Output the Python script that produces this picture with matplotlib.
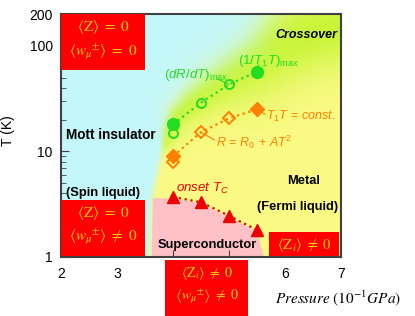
import numpy as np
import matplotlib
matplotlib.use('Agg')
import matplotlib.pyplot as plt
from matplotlib.path import Path
from matplotlib.patches import Rectangle, Polygon
from matplotlib.ticker import FixedLocator, LogLocator, NullFormatter

plt.rcParams['font.family'] = ['Liberation Sans', 'DejaVu Sans']
plt.rcParams['mathtext.fontset'] = 'custom'
plt.rcParams['mathtext.rm'] = 'Liberation Sans'
plt.rcParams['mathtext.it'] = 'Liberation Sans:italic'
plt.rcParams['mathtext.bf'] = 'Liberation Sans:bold'

# data (pressure in 10^-1 GPa, T in K)
drdt_p = [4.0, 4.5, 5.0]
drdt_T = [15, 29, 43]
t1tmax_p = [4.0, 5.5]
t1tmax_T = [18, 57]
rfit_p = [4.0, 4.5, 5.0]
rfit_T = [7.9, 15.2, 20.6]
t1tconst_p = [4.0, 5.5]
t1tconst_T = [9.0, 25]
tc_p = [4.0, 4.5, 5.0, 5.5]
tc_T = [3.7, 3.3, 2.46, 1.8]

xticks = [2, 3, 4, 5, 6, 7]
xticklabels = ['2', '3', '', '', '6', '7']  # 4 and 5 sit under the red box
yticks = [1, 10, 100, 200]

green = '#22dd22'
orange = '#ff8000'
red = '#ee0000'
boxred = '#ff0000'
boxtxt = '#ffd200'

W, H = 415, 316
fig = plt.figure(figsize=(W / 100, H / 100), dpi=100)
pos = [61 / W, 1 - 257 / H, 280 / W, 243 / H]

# ---- background phase colouring ----
umax = np.log10(200)
xs = np.linspace(2, 7, 500)
us = np.linspace(0, umax, 430)
X, U = np.meshgrid(xs, us)
sx, su = 56.0, 105.0
PX, PY = X * sx, U * su


def seg_dist(pts):
    pts = np.asarray(pts) * [sx, su]
    d = np.full(PX.shape, np.inf)
    for (ax_, ay), (bx, by) in zip(pts[:-1], pts[1:]):
        dx, dy = bx - ax_, by - ay
        t = np.clip(((PX - ax_) * dx + (PY - ay) * dy) / (dx * dx + dy * dy), 0, 1)
        d = np.minimum(d, np.hypot(PX - ax_ - t * dx, PY - ay - t * dy))
    return d


bound = [(3.57, -0.1), (3.62, 0.55), (3.8, 1.0), (3.84, 1.2), (3.95, 1.4),
         (4.2, 1.55), (4.55, 1.71), (5.0, 1.88), (5.4, 2.05), (5.82, 2.4)]
cyan_path = Path(bound + [(1.9, 2.4), (1.9, -0.1)])
inside = cyan_path.contains_points(np.c_[X.ravel(), U.ravel()]).reshape(X.shape)
db = seg_dist(bound)
signed = np.where(inside, db, -db)
ws = 1.5 + 7 * np.clip((U - 1.1) / 0.8, 0, 1)
wc = 1 / (1 + np.exp(-signed / ws))

center = [(3.78, 1.1), (4.0, 1.32), (4.5, 1.56), (5.0, 1.74), (5.5, 1.9),
          (6.0, 2.03), (6.5, 2.13), (7.1, 2.2)]
dc = seg_dist(center)
wg = 10 + 30 * np.clip((X - 3.85) / 1.8, 0, 1)
g = np.exp(-(dc / wg) ** 2)

c_cyan = np.array([0.77, 0.97, 0.98])
c_yel = np.array([0.98, 0.98, 0.52])
c_grn = np.array([0.79, 0.96, 0.22])
col = c_yel + g[..., None] * (c_grn - c_yel)
img = wc[..., None] * c_cyan + (1 - wc[..., None]) * col

bg = fig.add_axes(pos, zorder=0)
bg.imshow(img, extent=[2, 7, 0, umax], origin='lower', aspect='auto',
          interpolation='bilinear')
bg.set_xlim(2, 7)
bg.set_ylim(0, umax)
bg.axis('off')

ax = fig.add_axes(pos, zorder=1)
ax.set_facecolor('none')
ax.set_yscale('log')
ax.set_xlim(2, 7)
ax.set_ylim(1, 200)

# superconducting dome
sc_x = [3.62, 3.64] + tc_p + [5.62]
sc_y = [1, 3.6] + [t * 0.97 for t in tc_T] + [1]
ax.add_patch(Polygon(np.c_[sc_x, sc_y], closed=True, facecolor='#ffc0c6',
                     edgecolor='none', zorder=1))

# lines
gl_p = [t1tmax_p[0]] + drdt_p[1:] + [t1tmax_p[1]]
gl_T = [t1tmax_T[0]] + drdt_T[1:] + [t1tmax_T[1]]
ax.plot(gl_p, gl_T, ':', color=green, lw=1.6, zorder=3)
ol_p = [t1tconst_p[0]] + rfit_p[1:] + [t1tconst_p[1]]
ol_T = [t1tconst_T[0]] + rfit_T[1:] + [t1tconst_T[1]]
ax.plot(ol_p, ol_T, ':', color=orange, lw=1.6, zorder=3)
ax.plot(tc_p, tc_T, ':', color=red, lw=1.6, zorder=3)

ax.plot(drdt_p, drdt_T, 'o', ms=6.5, mfc='none', mec=green, mew=1.4, zorder=4)
ax.plot(t1tmax_p, t1tmax_T, 'o', ms=8.5, color=green, zorder=4)
ax.plot(rfit_p, rfit_T, 'D', ms=6, mfc='none', mec=orange, mew=1.4, zorder=4)
ax.plot(t1tconst_p, t1tconst_T, 'D', ms=7, color=orange, zorder=4)
ax.plot(tc_p, tc_T, '^', ms=8, color=red, zorder=4)

# leader lines
ax.plot([4.8, 5.0], [48.5, 43], '-', color=green, lw=0.8, zorder=3)
ax.plot([5.52, 5.5], [66, 57], '-', color=green, lw=0.8, zorder=3)
ax.plot([5.5, 5.64], [25, 22.5], '-', color=orange, lw=0.8, zorder=3)
ax.plot([4.5, 4.74], [15.2, 12.8], '-', color=orange, lw=0.8, zorder=3)

# labels
ax.text(6.38, 127, 'Crossover', fontsize=9, fontweight='bold', style='italic',
        ha='center', va='center', zorder=5)
ax.text(5.7, 72, r'$(1/T_{1}T)_{\mathrm{max}}$', color=green, fontsize=9.5,
        ha='center', va='center', zorder=5)
ax.text(4.41, 53, r'$(dR/dT)_{\mathrm{max}}$', color=green, fontsize=9.5,
        ha='center', va='center', zorder=5)
ax.text(5.66, 21.5, r'$T_{1}T\,=\,const.$', color=orange, fontsize=9,
        ha='left', va='center', zorder=5)
ax.text(4.76, 12.2, r'$R\,=\,R_{0}\,+\,AT^{2}$', color=orange, fontsize=9,
        ha='left', va='center', zorder=5)
ax.text(2.09, 14.2, 'Mott insulator', fontsize=9.8, fontweight='bold',
        ha='left', va='center', zorder=5)
ax.text(2.09, 4.07, '(Spin liquid)', fontsize=9.3, fontweight='bold',
        ha='left', va='center', zorder=5)
ax.text(4.05, 4.45, r'$onset\ T_{C}$', color=red, fontsize=9.5,
        ha='left', va='center', zorder=5)
ax.text(6.34, 5.3, 'Metal', fontsize=9.3, fontweight='bold',
        ha='center', va='center', zorder=5)
ax.text(6.23, 3.0, '(Fermi liquid)', fontsize=9.3, fontweight='bold',
        ha='center', va='center', zorder=5)
ax.text(4.62, 1.3, 'Superconductor', fontsize=9.3, fontweight='bold',
        ha='center', va='center', zorder=5)

# axes styling
ax.xaxis.set_major_locator(FixedLocator(xticks))
ax.set_xticklabels(xticklabels)
ax.yaxis.set_major_locator(FixedLocator(yticks))
ax.set_yticklabels([str(v) for v in yticks])
ax.yaxis.set_minor_locator(LogLocator(base=10, subs=np.arange(2, 10)))
ax.yaxis.set_minor_formatter(NullFormatter())
ax.tick_params(which='both', direction='in', labelsize=10, color='#404040')
ax.tick_params(axis='x', which='major', length=5, pad=7)
ax.tick_params(axis='y', which='major', length=6, pad=6)
ax.tick_params(axis='y', which='minor', length=3.5)
for s in ax.spines.values():
    s.set_color('#404040')
    s.set_linewidth(1.5)
ax.set_ylabel('T (K)', fontsize=10)
ax.yaxis.set_label_coords(-0.165, 0.52)

# red boxes (figure pixel coordinates)
def fbox(x0, y0, x1, y1):
    fig.patches.append(Rectangle((x0 / W, 1 - y1 / H), (x1 - x0) / W, (y1 - y0) / H,
                                 transform=fig.transFigure, facecolor=boxred,
                                 edgecolor='none', zorder=5))


def ftxt(x, y, s, size):
    fig.text(x / W, 1 - y / H, s, fontsize=size, color=boxtxt, ha='center',
             va='center', math_fontfamily='stix', zorder=6)


wz = r'\left\langle w_{\mu}{}^{\pm}\right\rangle'
fbox(61, 14, 145, 70)
ftxt(103, 27, r'$\langle \mathrm{Z}\rangle\ =\ 0$', 11)
ftxt(103, 52, r'$' + wz + r'\ =\ 0$', 11)
fbox(61, 200, 145, 256)
ftxt(103, 213, r'$\langle \mathrm{Z}\rangle\ =\ 0$', 11)
ftxt(103, 237, r'$' + wz + r'\ \neq\ 0$', 11)
fbox(165, 260, 248, 330)
ftxt(207, 273, r'$\langle \mathrm{Z}_{i}\rangle\ \neq\ 0$', 10)
ftxt(207, 297, r'$' + wz + r'\ \neq\ 0$', 10)
fbox(269, 232, 339, 256)
ftxt(304, 245, r'$\langle \mathrm{Z}_{i}\rangle\ \neq\ 0$', 10.5)

fig.text(338 / W, 1 - 298 / H, r'$Pressure\ (10^{-1}GPa)$', fontsize=11,
         ha='center', va='center', math_fontfamily='stix')

fig.savefig('out.png', dpi=100)
